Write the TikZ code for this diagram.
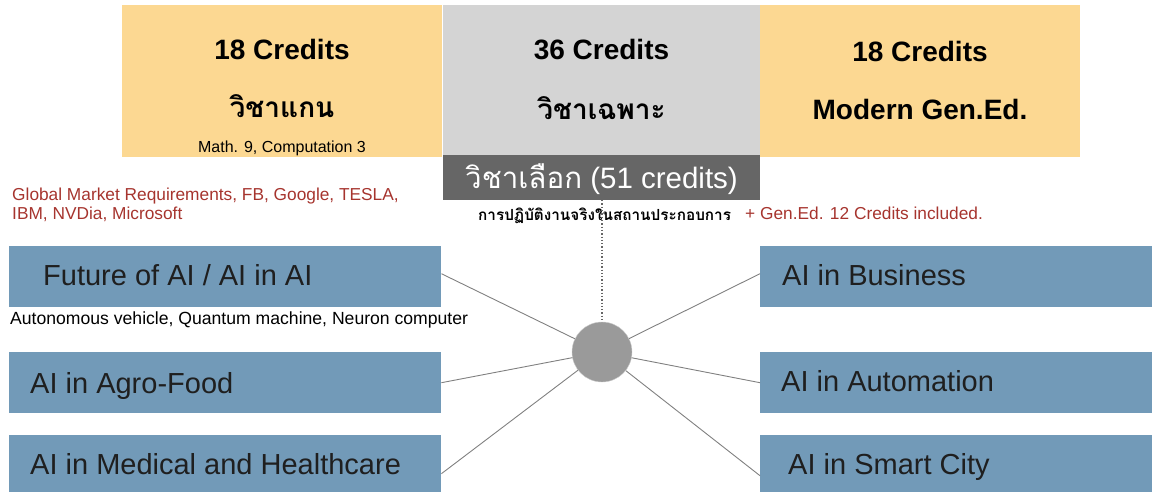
\documentclass[tikz,border=0pt]{standalone}
\usepackage{fontspec}
\setmainfont{Liberation Sans}
\newfontfamily\thai[Script=Thai]{Loma}
\definecolor{coreyellow}{RGB}{252,216,146}
\definecolor{majorgray}{RGB}{212,212,212}
\definecolor{electivegray}{RGB}{102,102,102}
\definecolor{trackblue}{RGB}{114,154,184}
\definecolor{hubgray}{RGB}{154,154,154}
\definecolor{notered}{RGB}{166,52,46}
\tikzset{
  creditbox/.style={rectangle,inner sep=0pt,minimum width=320pt,minimum height=152pt},
  trackbox/.style={rectangle,fill=trackblue,inner sep=0pt,minimum width=432pt,minimum height=61pt,anchor=north west},
  tracktext/.style={anchor=base west,inner sep=0pt,text=black!88,font=\fontsize{29}{32}\selectfont},
  heading/.style={anchor=base,inner sep=0pt,font=\fontsize{28}{32}\selectfont\bfseries},
  note/.style={anchor=base west,inner sep=0pt,align=left,font=\fontsize{17.3}{19}\selectfont},
  spoke/.style={draw=black!50,line width=0.9pt},
}
\begin{document}
\begin{tikzpicture}[x=1pt,y=-1pt]
  \useasboundingbox (0,0) rectangle (1152,492);
  % credit blocks
  \node[creditbox,fill=coreyellow] (core) at (282,81) {};
  \node[creditbox,fill=majorgray,minimum width=317pt] (major) at (601.5,81) {};
  \node[creditbox,fill=coreyellow] (gened) at (920,81) {};
  \node[rectangle,fill=electivegray,inner sep=0pt,minimum width=317pt,minimum height=45pt] (elective) at (601.5,177.5) {};
  \node[heading] (corecr) at (282,60) {18 Credits};
  \node[heading] (coreth) at (282,118) {\thai\bfseries วิชาแกน};
  \node[anchor=base,inner sep=0pt,font=\fontsize{16}{18}\selectfont] (coremath) at (282,153) {Math. 9, Computation 3};
  \node[heading] (majorcr) at (601.5,60) {36 Credits};
  \node[heading] (majorth) at (601.5,120) {\thai\bfseries วิชาเฉพาะ};
  \node[heading] (genedcr) at (920,62) {18 Credits};
  \node[heading] (genedname) at (920,120) {Modern Gen.Ed.};
  \node[anchor=base,inner sep=0pt,text=white,font=\fontsize{29.5}{32}\selectfont] (electivelbl) at (601.5,189) {{\thai วิชาเลือก} (51 credits)};
  % notes
  \node[note,text=notered] (market) at (12,219) {Global Market Requirements, FB, Google, TESLA,\\IBM, NVDia, Microsoft};
  \node[note,font=\fontsize{15.3}{18}\selectfont\thai\bfseries] (practice) at (478,220) {การปฏิบัติงานจริงในสถานประกอบการ};
  \node[note,text=notered] (genednote) at (745,219) {+ Gen.Ed. 12 Credits included.};
  \node[note,font=\fontsize{17.6}{19}\selectfont] (future) at (10,324) {Autonomous vehicle, Quantum machine, Neuron computer};
  % tracks
  \node[trackbox] (fut) at (9,246) {};
  \node[trackbox] (agro) at (9,352) {};
  \node[trackbox] (med) at (9,435) {};
  \node[trackbox,minimum width=392pt] (biz) at (760,246) {};
  \node[trackbox,minimum width=392pt] (auto) at (760,352) {};
  \node[trackbox,minimum width=392pt] (city) at (760,435) {};
  \node[tracktext] (futlbl) at (43,285) {Future of AI / AI in AI};
  \node[tracktext] (agrolbl) at (30,393) {AI in Agro-Food};
  \node[tracktext] (medlbl) at (30,474) {AI in Medical and Healthcare};
  \node[tracktext] (bizlbl) at (782,285) {AI in Business};
  \node[tracktext] (autolbl) at (781,391) {AI in Automation};
  \node[tracktext] (citylbl) at (788,474) {AI in Smart City};
  % hub
  \node[circle,fill=hubgray,draw=black!20,inner sep=0pt,minimum size=60pt] (hub) at (602,352) {};
  \draw[dotted,line width=1.3pt,black!60] (hub |- elective.south) -- (hub.north);
  \begin{scope}[spoke]
    \draw (hub) -- ([yshift=3pt]fut.east);
    \draw (hub) -- (agro.east);
    \draw (hub) -- ([yshift=-8pt]med.east);
    \draw (hub) -- ([yshift=3pt]biz.west);
    \draw (hub) -- (auto.west);
    \draw (hub) -- ([yshift=-10pt]city.west);
  \end{scope}
\end{tikzpicture}
\end{document}
